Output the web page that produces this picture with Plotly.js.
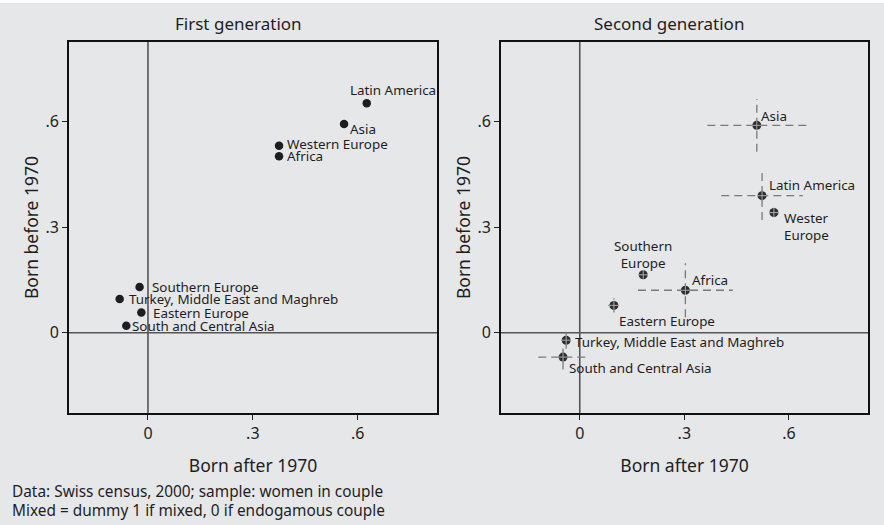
<!DOCTYPE html>
<html><head><meta charset="utf-8">
<script src="https://cdn.plot.ly/plotly-3.0.1.min.js"></script>
<style>html,body{margin:0;padding:0;background:#fff}</style>
</head><body><div id="chart" style="width:884px;height:525px"></div>
<script>
// ---- data ----
const regions1 = ['Latin America', 'Asia', 'Western Europe', 'Africa', 'Southern Europe',
  'Turkey, Middle East and Maghreb', 'Eastern Europe', 'South and Central Asia'];
const after1  = [0.626, 0.561, 0.375, 0.375, -0.024, -0.081, -0.019, -0.062];
const before1 = [0.653, 0.594, 0.532, 0.502, 0.130, 0.096, 0.058, 0.020];

const regions2 = ['Asia', 'Latin America', 'Wester<br>Europe', 'Southern<br>Europe', 'Africa',
  'Eastern Europe', 'Turkey, Middle East and Maghreb', 'South and Central Asia'];
const after2     = [0.508, 0.523, 0.557, 0.182, 0.303, 0.098, -0.039, -0.048];
const before2    = [0.590, 0.390, 0.342, 0.165, 0.121, 0.078, -0.021, -0.069];
const afterErr2  = [0.142, 0.117, 0.008, 0.008, 0.136, 0.016, 0.010, 0.071];
const beforeErr2 = [0.075, 0.069, 0.008, 0.008, 0.077, 0.020, 0.024, 0.035];

const tickVals = [0, 0.3, 0.6];
const tickText = ['0', '.3', '.6'];

// label placement (style): [xshift, yshift, xanchor]
const lab1 = [[-18, 13, 'left'], [5, -5, 'left'], [7, 2, 'left'], [7, 0, 'left'],
  [11, 0, 'left'], [8, 0, 'left'], [11, -1, 'left'], [5, 0, 'left']];
const lab2 = [[3, 9, 'left'], [6, 11, 'left'], [9, -14, 'left'], [0, 20, 'center'],
  [6, 10, 'left'], [4, -16, 'left'], [8, -2, 'left'], [5, -11, 'left']];

const FONT = 'Noto Sans, Open Sans, sans-serif';
const TXT = '#1e1e1e';
const LABEL_SIZE = 13.4;

const traces = [];
// error bars (dashed) for second generation
after2.forEach((x, i) => {
  const y = before2[i];
  traces.push({x: [x - afterErr2[i], x + afterErr2[i]], y: [y, y], xaxis: 'x2', yaxis: 'y2',
    mode: 'lines', line: {color: '#7a7a7a', width: 1.3, dash: '8px,5px'}, hoverinfo: 'skip', showlegend: false});
  traces.push({x: [x, x], y: [y - beforeErr2[i], y + beforeErr2[i]], xaxis: 'x2', yaxis: 'y2',
    mode: 'lines', line: {color: '#7a7a7a', width: 1.3, dash: '8px,5px'}, hoverinfo: 'skip', showlegend: false});
});
traces.push({x: after1, y: before1, xaxis: 'x', yaxis: 'y', mode: 'markers', text: regions1,
  marker: {color: '#1e1e1e', size: 8.5}, showlegend: false});
traces.push({x: after2, y: before2, xaxis: 'x2', yaxis: 'y2', mode: 'markers', text: regions2,
  marker: {color: '#2e2e2e', size: 9}, showlegend: false});
traces.push({x: after2, y: before2, xaxis: 'x2', yaxis: 'y2', mode: 'markers', hoverinfo: 'skip',
  marker: {symbol: 'cross-thin', size: 7, line: {color: '#aaa', width: 1}}, showlegend: false});

const annotations = [];
regions1.forEach((r, i) => annotations.push({x: after1[i], y: before1[i], xref: 'x', yref: 'y', text: r,
  showarrow: false, xanchor: lab1[i][2], yanchor: 'middle', xshift: lab1[i][0], yshift: lab1[i][1],
  borderpad: 0, font: {family: FONT, size: LABEL_SIZE, color: TXT}}));
regions2.forEach((r, i) => annotations.push({x: after2[i], y: before2[i], xref: 'x2', yref: 'y2', text: r,
  showarrow: false, xanchor: lab2[i][2], yanchor: 'middle', xshift: lab2[i][0], yshift: lab2[i][1],
  align: lab2[i][2], borderpad: 0, font: {family: FONT, size: LABEL_SIZE, color: TXT}}));
annotations.push({x: 239/884, y: 1 - 23/525, xref: 'paper', yref: 'paper', text: 'First generation',
  showarrow: false, xanchor: 'center', yanchor: 'middle', font: {family: FONT, size: 17, color: TXT}});
annotations.push({x: 669/884, y: 1 - 23/525, xref: 'paper', yref: 'paper', text: 'Second generation',
  showarrow: false, xanchor: 'center', yanchor: 'middle', font: {family: FONT, size: 17, color: TXT}});
annotations.push({x: 10/884, y: 1 - 491/525, xref: 'paper', yref: 'paper', text: 'Data: Swiss census, 2000; sample: women in couple',
  showarrow: false, xanchor: 'left', yanchor: 'middle', font: {family: FONT, size: 15.4, color: TXT}});
annotations.push({x: 10/884, y: 1 - 510/525, xref: 'paper', yref: 'paper', text: 'Mixed = dummy 1 if mixed, 0 if endogamous couple',
  showarrow: false, xanchor: 'left', yanchor: 'middle', font: {family: FONT, size: 15.4, color: TXT}});

const refLine = {color: '#555', width: 1.6};
const shapes = [
  {type: 'rect', xref: 'paper', yref: 'paper', x0: 0, x1: 1, y0: 0, y1: 1 - 3/525, fillcolor: '#e6e7e9', line: {width: 0}, layer: 'below'},
  {type: 'line', xref: 'x', yref: 'y domain', x0: 0, x1: 0, y0: 0, y1: 1, line: refLine, layer: 'below'},
  {type: 'line', xref: 'x domain', yref: 'y', x0: 0, x1: 1, y0: 0, y1: 0, line: refLine, layer: 'below'},
  {type: 'line', xref: 'x2', yref: 'y2 domain', x0: 0, x1: 0, y0: 0, y1: 1, line: refLine, layer: 'below'},
  {type: 'line', xref: 'x2 domain', yref: 'y2', x0: 0, x1: 1, y0: 0, y1: 0, line: refLine, layer: 'below'}
];

const xRange = [-0.226, 0.827], yRange = [-0.228, 0.827];
function xax(domain, anchor) {
  return {domain: domain, anchor: anchor, range: xRange, tickvals: tickVals, ticktext: tickText,
    ticks: 'outside', ticklen: 5, tickcolor: '#222', showgrid: false, zeroline: false,
    showline: true, mirror: true, linecolor: '#111', linewidth: 1.8,
    tickfont: {family: FONT, size: 16, color: TXT},
    title: {text: 'Born after 1970', standoff: 17, font: {family: FONT, size: 17.5, color: TXT}}};
}
function yax(anchor) {
  return {domain: [1 - 413/525, 1 - 42/525], anchor: anchor, range: yRange, tickvals: tickVals, ticktext: tickText,
    ticks: 'outside', ticklen: 5, tickcolor: '#222', showgrid: false, zeroline: false,
    showline: true, mirror: true, linecolor: '#111', linewidth: 1.8,
    tickfont: {family: FONT, size: 16, color: TXT},
    title: {text: 'Born before 1970', standoff: 2, font: {family: FONT, size: 17.5, color: TXT}}};
}

const layout = {
  width: 884, height: 525, margin: {l: 0, r: 0, t: 0, b: 0},
  paper_bgcolor: '#ffffff', plot_bgcolor: '#ffffff',
  xaxis: xax([69/884, 437/884], 'y'),
  yaxis: yax('x'),
  xaxis2: xax([501/884, 868/884], 'y2'),
  yaxis2: yax('x2'),
  shapes: shapes, annotations: annotations, showlegend: false
};
Plotly.newPlot('chart', traces, layout, {displayModeBar: false, staticPlot: true});
</script></body></html>
